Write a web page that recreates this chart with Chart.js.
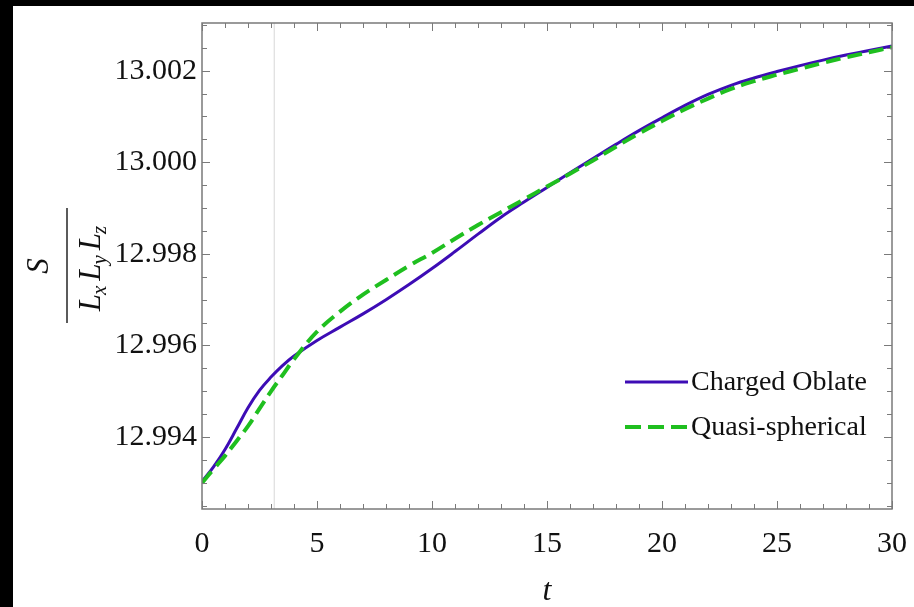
<!DOCTYPE html>
<html>
<head>
<meta charset="utf-8">
<title>Entropy density</title>
<script src="https://cdn.jsdelivr.net/npm/chart.js@4.4.1/dist/chart.umd.min.js"></script>
<style>
  html, body { margin: 0; padding: 0; background: #000; }
  #plot { display: block; }
</style>
</head>
<body>
<canvas id="plot" width="914" height="607"></canvas>
<script>
// time samples (finer near the start where the curves bend)
const times = [0, 0.5, 1, 1.5, 2, 2.5, 3, 3.5, 4, 5, 6, 7, 8, 9, 10, 11, 12, 13, 14, 15,
  16, 17, 18, 19, 20, 21, 22, 23, 24, 25, 26, 27, 28, 29, 30];
// S / (Lx Ly Lz) for the two models
const chargedOblate = [12.99303, 12.99335, 12.99373, 12.99418, 12.99464, 12.99502, 12.99531, 12.99556,
  12.99577, 12.99611, 12.99640, 12.99669, 12.99700, 12.99733, 12.99768, 12.99805, 12.99843, 12.99880,
  12.99913, 12.99945, 12.99977, 13.00008, 13.00039, 13.00069, 13.00097, 13.00124, 13.00148, 13.00168,
  13.00184, 13.00198, 13.00211, 13.00223, 13.00234, 13.00244, 13.00254];
const quasiSpherical = [12.99300, 12.99330, 12.99359, 12.99391, 12.99424, 12.99462, 12.99500, 12.99535,
  12.99570, 12.99630, 12.99674, 12.99711, 12.99743, 12.99774, 12.99802, 12.99833, 12.99863, 12.99891,
  12.99919, 12.99947, 12.99975, 13.00004, 13.00034, 13.00063, 13.00090, 13.00116, 13.00139, 13.00160,
  13.00177, 13.00191, 13.00204, 13.00217, 13.00229, 13.00240, 13.00251];
const seriesNames = ["Charged Oblate", "Quasi-spherical"];
// axis ticks
const xTicks = [0, 5, 10, 15, 20, 25, 30];
const yTicks = [12.994, 12.996, 12.998, 13.000, 13.002];
const xMin = 0, xMax = 30;
const yMin = 12.99243, yMax = 13.00304;
// thin marker line at t = pi
const markerT = Math.PI;

const blue = "#3d0cb5";
const green = "#1fbf1f";
const frameGray = "#7a7a7a";
const serif = "'Liberation Serif', 'Times New Roman', serif";

const toPoints = (ys) => times.map((t, i) => ({ x: t, y: ys[i] }));

//Draws the page background, the boxed frame with inward ticks, the axis titles and the legend
const framePlugin = {
  id: "frame",
  beforeDraw(chart) {
    const c = chart.ctx;
    c.save();
    c.fillStyle = "#000";
    c.fillRect(0, 0, chart.width, chart.height);
    c.fillStyle = "#fff";
    c.fillRect(13, 6, chart.width - 13, chart.height - 6);
    c.restore();
  },
  afterDraw(chart) {
    const c = chart.ctx;
    const a = chart.chartArea;
    const xs = chart.scales.x, ys = chart.scales.y;
    c.save();
    c.strokeStyle = frameGray;
    c.lineWidth = 1.5;
    c.strokeRect(a.left, a.top, a.right - a.left, a.bottom - a.top);
    c.lineWidth = 1;
    c.beginPath();
    // x ticks, every 1 with longer ones every 5
    for (let t = xMin; t <= xMax; t++) {
      const px = Math.round(xs.getPixelForValue(t)) + 0.5;
      const len = t % 5 === 0 ? 8 : 5;
      c.moveTo(px, a.bottom); c.lineTo(px, a.bottom - len);
      c.moveTo(px, a.top); c.lineTo(px, a.top + len);
    }
    // y ticks, every 0.0005 with longer ones every 0.002
    for (let k = 0; k <= 21; k++) {
      const v = 12.9925 + k * 0.0005;
      if (v > yMax) break;
      const py = Math.round(ys.getPixelForValue(v)) + 0.5;
      const len = (k + 1) % 4 === 0 ? 8 : 5;
      c.moveTo(a.left, py); c.lineTo(a.left + len, py);
      c.moveTo(a.right, py); c.lineTo(a.right - len, py);
    }
    c.stroke();

    // x title
    c.fillStyle = "#111";
    c.font = "italic 32px " + serif;
    c.textAlign = "center";
    c.textBaseline = "middle";
    c.fillText("t", (a.left + a.right) / 2, 592);

    // y title: S over Lx Ly Lz, rotated
    c.translate(67, (a.top + a.bottom) / 2);
    c.rotate(-Math.PI / 2);
    c.fillStyle = "#333";
    c.fillRect(-57, -0.8, 115, 1.6);
    c.fillStyle = "#111";
    c.font = "italic 31px " + serif;
    c.fillText("S", 0, -27);
    const parts = [["L", "x"], ["L", "y"], ["L", "z"]];
    const bigFont = "italic 31px " + serif, subFont = "italic 21px " + serif;
    let total = 0;
    const widths = parts.map(([b, s]) => {
      c.font = bigFont; const wb = c.measureText(b).width;
      c.font = subFont; const ws = c.measureText(s).width;
      total += wb + ws + 4;
      return [wb, ws];
    });
    let cx = -total / 2;
    c.textAlign = "left";
    c.textBaseline = "alphabetic";
    parts.forEach(([b, s], i) => {
      c.font = bigFont; c.fillText(b, cx, 33);
      cx += widths[i][0] - 1;
      c.font = subFont; c.fillText(s, cx, 39);
      cx += widths[i][1] + 5;
    });
    c.restore();

    // legend
    c.save();
    c.font = "28px " + serif;
    c.fillStyle = "#111";
    c.textAlign = "left";
    c.textBaseline = "alphabetic";
    c.strokeStyle = blue; c.lineWidth = 3;
    c.beginPath(); c.moveTo(625, 382); c.lineTo(688, 382); c.stroke();
    c.fillText(seriesNames[0], 691, 390);
    c.strokeStyle = green; c.lineWidth = 4; c.setLineDash([16, 7]);
    c.beginPath(); c.moveTo(625, 427); c.lineTo(688, 427); c.stroke();
    c.fillText(seriesNames[1], 691, 435);
    c.restore();
  }
};

const tickFont = { family: serif, size: 30 };

new Chart(document.getElementById("plot"), {
  type: "line",
  data: {
    datasets: [
      {
        label: seriesNames[1],
        data: toPoints(quasiSpherical),
        borderColor: green,
        borderWidth: 4,
        borderDash: [15, 7],
        pointRadius: 0,
        tension: 0.4,
        fill: false,
        order: 0,
      },
      {
        label: seriesNames[0],
        data: toPoints(chargedOblate),
        borderColor: blue,
        borderWidth: 3,
        pointRadius: 0,
        tension: 0.4,
        fill: false,
        order: 1,
      },
      {
        label: "marker",
        data: [{ x: markerT, y: yMin }, { x: markerT, y: yMax }],
        borderColor: "#dedede",
        borderWidth: 1.2,
        pointRadius: 0,
        fill: false,
        order: 2,
      },
    ],
  },
  options: {
    responsive: false,
    animation: false,
    layout: { padding: { top: 23, right: 22, left: 0, bottom: 0 } },
    plugins: { legend: { display: false }, tooltip: { enabled: false } },
    scales: {
      x: {
        type: "linear",
        min: xMin,
        max: xMax,
        afterBuildTicks: (s) => { s.ticks = xTicks.map((v) => ({ value: v })); },
        afterFit: (s) => { s.height = 98; s.paddingLeft = 0; s.paddingRight = 0; },
        grid: { display: false, drawTicks: false },
        border: { display: false },
        ticks: { font: tickFont, color: "#111", padding: 17, maxRotation: 0, autoSkip: false,
          callback: (v) => String(v) },
      },
      y: {
        type: "linear",
        min: yMin,
        max: yMax,
        afterBuildTicks: (s) => { s.ticks = yTicks.map((v) => ({ value: v })); },
        afterFit: (s) => { s.width = 202; s.paddingTop = 0; s.paddingBottom = 0; },
        grid: { display: false, drawTicks: false },
        border: { display: false },
        ticks: { font: tickFont, color: "#111", padding: 5, autoSkip: false,
          callback: (v) => Number(v).toFixed(3) },
      },
    },
  },
  plugins: [framePlugin],
});
</script>
</body>
</html>
